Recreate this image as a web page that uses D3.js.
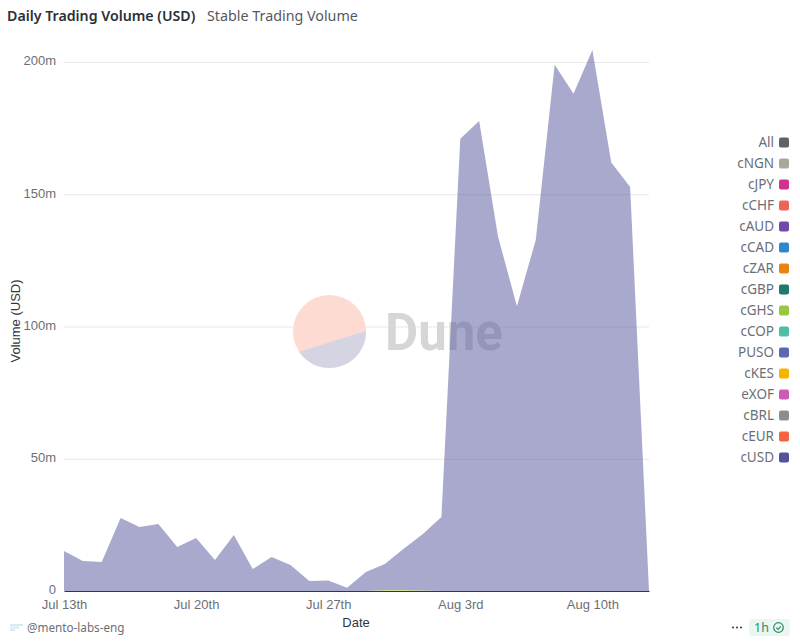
<!DOCTYPE html>
<html>
<head>
<meta charset="utf-8">
<script src="https://cdn.jsdelivr.net/npm/d3@7/dist/d3.min.js"></script>
<style>
html, body { margin: 0; padding: 0; background: #fff; }
svg { display: block; }
</style>
</head>
<body>
<div id="chart"></div>
<script>
// Volume quotidien, en millions USD, un point par jour depuis le 13 juillet
const cUsdVolume = [
  15.1, 11.3, 11, 27.6, 24.2, 25.3, 16.6, 20, 11.7, 21.2, 8.3, 12.9, 9.8, 3.8, 4, 1.2,
  7.2, 9.8, 15.6, 21.3, 28, 171, 177.7, 134, 107.7, 132.7, 199, 188, 204.5, 162, 152.7, 0,
]
// Petite série visible seulement autour du 31 juillet
const cGhsVolume = [
  0, 0, 0, 0, 0, 0, 0, 0, 0, 0, 0, 0, 0, 0, 0, 0,
  0, 0.4, 0.4, 0.2, 0, 0, 0, 0, 0, 0, 0, 0, 0, 0, 0, 0,
]
const yTicks = [0, 50, 100, 150, 200]
const xTicks = [0, 7, 14, 21, 28]
const xTickLabels = ["Jul 13th", "Jul 20th", "Jul 27th", "Aug 3rd", "Aug 10th"]
const legendNames = ["All", "cNGN", "cJPY", "cCHF", "cAUD", "cCAD", "cZAR", "cGBP", "cGHS", "cCOP", "PUSO", "cKES", "eXOF", "cBRL", "cEUR", "cUSD"]
const legendColors = ["#5f6368", "#a9a998", "#d0338f", "#ee6457", "#7048a8", "#2f86c9", "#ea8410", "#1f7a6b", "#97c83f", "#4fbfa3", "#5a68b8", "#f4b400", "#cc5cb4", "#8c8c8c", "#f4623f", "#53539c"]

const W = 800, H = 643
const margin = { top: 62, right: 151, bottom: 52, left: 64 }
const width = W - margin.left - margin.right
const height = H - margin.top - margin.bottom

const plexLike = "'Noto Sans', sans-serif"
const axisFont = "'Liberation Sans', Arial, sans-serif"
const colorOf = (name) => legendColors[legendNames.indexOf(name)]

const svg = d3.select("#chart")
  .append("svg")
  .attr("width", W).attr("height", H)
  .attr("viewBox", `0 0 ${W} ${H}`)

// Titre
svg.append("text")
  .attr("x", 7).attr("y", 21)
  .attr("fill", "#2b2f36").attr("font-size", 14.2).attr("font-weight", 600)
  .attr("font-family", plexLike)
  .text("Daily Trading Volume (USD)")
svg.append("text")
  .attr("x", 207).attr("y", 21)
  .attr("fill", "#55595f").attr("font-size", 14.3)
  .attr("font-family", plexLike)
  .text("Stable Trading Volume")

const g = svg.append("g").attr("transform", `translate(${margin.left},${margin.top})`)

// Échelles
const x = d3.scaleLinear().domain([0, cUsdVolume.length - 1]).range([0, width])
const y = d3.scaleLinear().domain([0, 200]).range([height, 0])

// Grille
g.append("g")
  .call(d3.axisLeft(y).tickValues(yTicks.slice(1)).tickSize(-width).tickFormat(""))
  .attr("color", "#e8e8e8")
  .call((s) => s.select(".domain").remove())

// Filigrane Dune, sous l'aire : disque + segment coupé par une corde
const wm = svg.append("g").attr("transform", "translate(329.5,331.5)")
const r = 36.5
wm.append("circle").attr("r", r).attr("fill", "#fddbd3")
wm.append("path").attr("fill", "#d4d4e3")
  .attr("d", `M${r},-0.5A${r} ${r} 0 0 1 -30.4,20.2Z`)
svg.append("text")
  .attr("x", 385).attr("y", 350)
  .attr("fill", "#d6d6d6").attr("font-size", 51).attr("font-weight", 700)
  .attr("font-family", "Roboto, sans-serif")
  .text("Dune")

// Aires empilées (au-dessus du filigrane, qui reste visible par transparence)
const rows = cUsdVolume.map((v, i) => ({ cGHS: cGhsVolume[i], cUSD: v }))
const stacked = d3.stack().keys(["cGHS", "cUSD"])(rows)
const area = d3.area()
  .x((d, i) => x(i))
  .y0((d) => y(d[0]))
  .y1((d) => y(d[1]))
const layers = svg.append("g").attr("transform", `translate(${margin.left},${margin.top})`)
layers.selectAll("path.layer")
  .data(stacked)
  .join("path")
  .attr("class", "layer")
  .attr("fill", (s) => colorOf(s.key))
  .attr("fill-opacity", 0.5)
  .attr("d", area)

// Axes
const xAxis = layers.append("g")
  .attr("transform", `translate(0,${height})`)
  .call(d3.axisBottom(x).tickValues(xTicks).tickSize(0).tickPadding(9)
    .tickFormat((d, i) => xTickLabels[i]))
xAxis.select(".domain").attr("stroke", "#33364a").attr("stroke-width", 1)
xAxis.selectAll("text")
  .attr("fill", "#6b6f76").attr("font-size", 13).attr("font-family", axisFont)

const yAxis = layers.append("g")
  .call(d3.axisLeft(y).tickValues(yTicks).tickSize(0).tickPadding(8)
    .tickFormat((d) => d === 0 ? "0" : `${d}m`))
yAxis.select(".domain").remove()
yAxis.selectAll("text")
  .attr("fill", "#6b6f76").attr("font-size", 13).attr("font-family", axisFont)
  .attr("dy", "0.22em")

// Labels d'axes
svg.append("text")
  .attr("x", 356).attr("y", 627)
  .attr("text-anchor", "middle").attr("fill", "#33363b").attr("font-size", 13)
  .attr("font-family", axisFont)
  .text("Date")
svg.append("text")
  .attr("transform", "rotate(-90)")
  .attr("x", -321).attr("y", 20)
  .attr("text-anchor", "middle").attr("fill", "#33363b").attr("font-size", 13)
  .attr("font-family", axisFont)
  .text("Volume (USD)")

// Légende
const legendY = d3.scalePoint().domain(legendNames).range([142, 457])
legendNames.forEach((name, i) => {
  const row = svg.append("g").attr("transform", `translate(0,${legendY(name)})`)
  row.append("text")
    .attr("x", 774).attr("y", 4.5)
    .attr("text-anchor", "end").attr("fill", "#6b6f76").attr("font-size", 13.5)
    .attr("font-family", plexLike)
    .text(name)
  row.append("rect")
    .attr("x", 779).attr("y", -4.5).attr("width", 10).attr("height", 10).attr("rx", 2)
    .attr("fill", legendColors[i])
})

// Pied de page
const logo = svg.append("g").attr("fill", "#d3edf7")
logo.append("rect").attr("x", 10).attr("y", 624).attr("width", 13).attr("height", 2)
logo.append("rect").attr("x", 10).attr("y", 626.5).attr("width", 9).attr("height", 2)
logo.append("rect").attr("x", 10).attr("y", 629).attr("width", 5).attr("height", 2)
svg.append("text")
  .attr("x", 27).attr("y", 632)
  .attr("fill", "#6b6f76").attr("font-size", 11.7)
  .attr("font-family", plexLike)
  .text("@mento-labs-eng")

svg.append("g").attr("fill", "#44474c")
  .selectAll("circle")
  .data([733, 737, 741])
  .join("circle")
  .attr("cx", (d) => d).attr("cy", 627.5).attr("r", 1.1)
svg.append("rect")
  .attr("x", 749).attr("y", 619).attr("width", 41).attr("height", 17).attr("rx", 3)
  .attr("fill", "#e9f7f1")
svg.append("text")
  .attr("x", 754).attr("y", 632)
  .attr("fill", "#2f8a68").attr("font-size", 12.5)
  .attr("font-family", plexLike)
  .text("1h")
svg.append("circle")
  .attr("cx", 778.5).attr("cy", 627.5).attr("r", 4.8)
  .attr("fill", "none").attr("stroke", "#2f8a68").attr("stroke-width", 1.2)
svg.append("path")
  .attr("d", "M776.3 627.6l1.7 1.7 2.9-3")
  .attr("fill", "none").attr("stroke", "#2f8a68").attr("stroke-width", 1.2)
</script>
</body>
</html>
